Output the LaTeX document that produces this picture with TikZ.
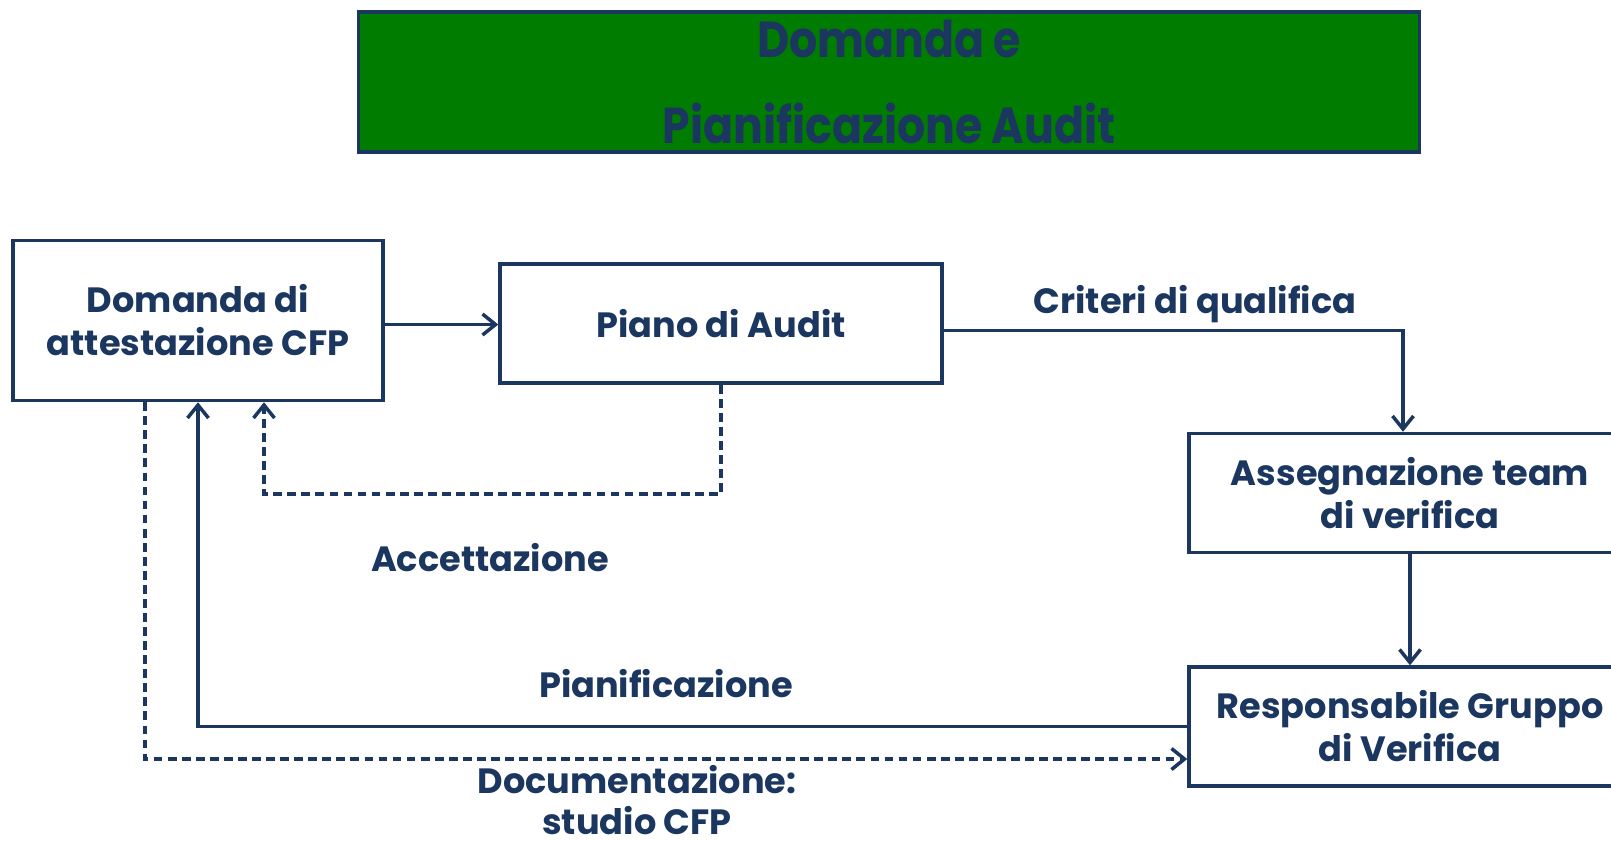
\documentclass[tikz,border=0pt]{standalone}
\usepackage{fontspec}
\setmainfont{Poppins}
\usepackage{xcolor}
\usetikzlibrary{arrows.meta,positioning,calc}
\definecolor{navy}{HTML}{1B365F}
\definecolor{titlegreen}{HTML}{007D00}
\tikzset{
  stepbox/.style={draw=navy,fill=white,line width=2pt,align=center,
                  inner sep=4pt,font=\bfseries\fontsize{20}{24.5}\selectfont,
                  text=navy,minimum width=8.84cm,minimum height=2.38cm},
  titlebox/.style={draw=navy,fill=titlegreen,line width=2pt,align=center,
                   font=\bfseries\fontsize{24}{49}\selectfont,text=navy,
                   minimum width=21.22cm,minimum height=2.8cm},
  flowlabel/.style={align=center,text=navy,inner sep=0pt,
                    font=\bfseries\fontsize{20}{24.5}\selectfont},
  flowarr/.style={-{Straight Barb[length=2.6mm,width=4.2mm]},line width=2pt,
                  draw=navy},
  dasharr/.style={flowarr,dash pattern=on 5pt off 3pt}
}
\begin{document}
\begin{tikzpicture}[x=0.02cm,y=-0.02cm]
    \clip (0,0) rectangle (1611,840);
    \node[titlebox] (title) at (889,82)
      {\scalebox{1.05}[1.2]{Domanda e}\\\scalebox{1.05}[1.2]{Pianificazione Audit}};

    \node[stepbox,minimum width=7.4cm,minimum height=3.2cm] (domanda) at (198,320.5)
      {Domanda di\\attestazione CFP};
    \node[stepbox] (piano) at (721,323.5) {Piano di Audit};
    \node[stepbox] (team) at (1410,493) {Assegnazione team\\di verifica};
    \node[stepbox] (resp) at (1410,726.5) {Responsabile Gruppo\\di Verifica};

    \coordinate (acc) at (264,494);
    \coordinate (doc) at (145,759);

    \draw[flowarr] ($(domanda.east)+(0,4)$) -- ($(domanda.east -| piano.west)+(0,4)$);
    \draw[flowarr] ($(piano.east)+(0,7)$) -| ($(team.north)+(-7,0)$);
    \draw[flowarr] (team) -- (resp);
    \draw[flowarr] (resp.west) -| (domanda.south);
    \draw[dasharr] (piano.south) |- (acc) -- (acc |- domanda.south);
    \draw[dasharr] (doc |- domanda.south) -- (doc) -- (doc -| resp.west);

    \node[flowlabel] (criteri) at (1195,304) {Criteri di qualifica};
    \node[flowlabel] (accett) at (490,558) {Accettazione};
    \node[flowlabel] (pianif) at (666,684) {Pianificazione};
    \node[flowlabel,font=\bfseries\fontsize{20}{23}\selectfont] (docum) at (637,800)
      {Documentazione:\\studio CFP};
  \end{tikzpicture}
\end{document}
